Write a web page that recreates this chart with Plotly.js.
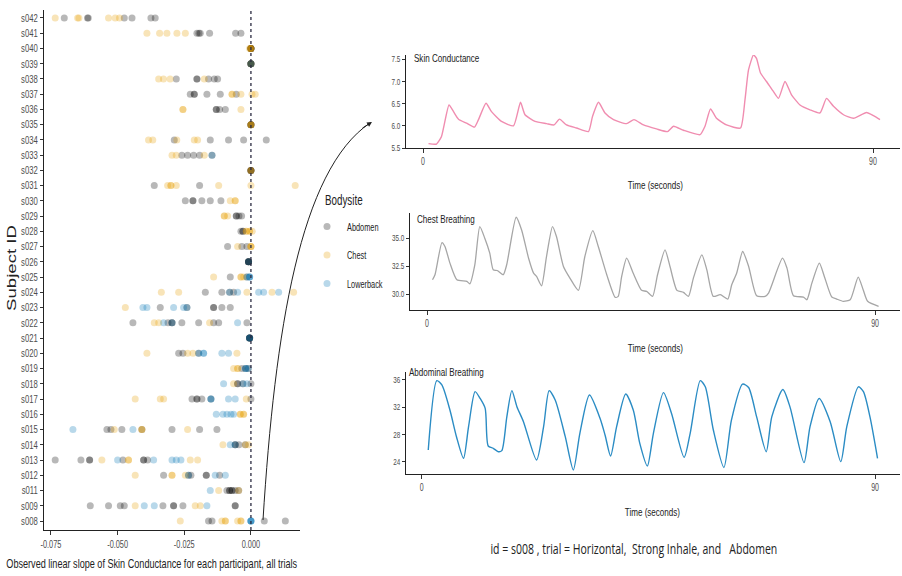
<!DOCTYPE html>
<html>
<head>
<meta charset="utf-8">
<script src="https://cdn.plot.ly/plotly-3.0.1.min.js"></script>
<style>html,body{margin:0;padding:0;background:#fff;}#chart{width:902px;height:576px;}</style>
</head>
<body>
<div id="chart"></div>
<script>
// ---------- DATA ----------
const subjects = ["s008","s009","s011","s012","s013","s014","s015","s016","s017","s018","s019","s020",
  "s021","s022","s023","s024","s025","s026","s027","s028","s029","s030","s031","s032","s033","s034",
  "s035","s036","s037","s038","s039","s040","s041","s042"];
const bodysites = ["Abdomen","Chest","Lowerback"];

const abdomenSlopes = [
  ["s042",[-0.070,-0.0613,-0.061,-0.0475,-0.0446,-0.0375,-0.0359]],
  ["s041",[-0.02025,-0.0195,-0.019,-0.0155,-0.00575,-0.00375]],
  ["s040",[0,0,0,0,0]],
  ["s039",[0,0,0,0,0]],
  ["s038",[-0.028,-0.02025,-0.02025,-0.0159,-0.01375,-0.0125]],
  ["s037",[-0.02275,-0.02125,-0.02125,-0.0165,-0.0115,-0.0055]],
  ["s036",[-0.013,-0.013,-0.01175,-0.0096]],
  ["s035",[0,0,0,0]],
  ["s034",[-0.02875,-0.01525,-0.0084,-0.00275,0.00575]],
  ["s033",[-0.0259,-0.02375,-0.0215,-0.01925,-0.0146]],
  ["s032",[0,0,0,0]],
  ["s031",[-0.03625,-0.01925]],
  ["s030",[-0.0246,-0.02175,-0.02175,-0.0184,-0.01525,-0.01125]],
  ["s029",[-0.0055,-0.0055,-0.0045,-0.0035]],
  ["s028",[-0.00375,-0.003,-0.003]],
  ["s027",[-0.00875,-0.0034,-0.0015]],
  ["s026",[-0.0009,-0.0009,-0.0009,-0.0009,-0.0009]],
  ["s025",[-0.00775,-0.0015]],
  ["s024",[-0.0171,-0.0109,-0.008,-0.0065]],
  ["s023",[-0.034,-0.024,-0.014,-0.014,-0.0109,-0.00775]],
  ["s022",[-0.04425,-0.0311,-0.0296,-0.0296,-0.0259,-0.0196,-0.014,-0.0121,-0.0015]],
  ["s021",[-0.0005,-0.0005,-0.0005,-0.0005,-0.0005]],
  ["s020",[-0.0271,-0.0255,-0.0196]],
  ["s019",[-0.0034,-0.002,-0.001]],
  ["s018",[-0.005,-0.005,-0.003,0]],
  ["s017",[-0.0221,-0.02025,-0.02025,-0.0184,-0.015,0]],
  ["s015",[-0.054,-0.0525,-0.0484,-0.0409,-0.0296,-0.01925,-0.01275]],
  ["s014",[-0.0059,-0.0059,-0.0045,-0.0021]],
  ["s013",[-0.0734,-0.06375,-0.0605,-0.0605,-0.048,-0.04025,-0.04025,-0.03875]],
  ["s012",[-0.03275,-0.0234,-0.0225,-0.01675,-0.01675,-0.01175]],
  ["s011",[-0.009,-0.008,-0.008,-0.0071,-0.0071,-0.0059,-0.0046]],
  ["s009",[-0.06025,-0.0534,-0.049,-0.0475,-0.033,-0.029,-0.029,-0.0255,-0.0059,-0.0059]],
  ["s008",[-0.0159,-0.0146,0.005,0.0129]]
];
const chestSlopes = [
  ["s042",[-0.0734,-0.065,-0.0645,-0.0534,-0.0509,-0.0493]],
  ["s041",[-0.039,-0.03425,-0.0315,-0.02775,-0.0246]],
  ["s040",[0,0,0,-0.0005]],
  ["s039",[0]],
  ["s038",[-0.0346,-0.0328,-0.0303,-0.0175]],
  ["s037",[-0.0071,-0.0071,-0.00375,0.0004,0.0016]],
  ["s036",[-0.0255,-0.0255,-0.00375]],
  ["s035",[0,0,0]],
  ["s034",[-0.0384,-0.0368,-0.0278,-0.02125,-0.02]],
  ["s033",[-0.0296,-0.028,-0.0175]],
  ["s032",[0,0]],
  ["s031",[-0.03125,-0.03,-0.03,-0.028,-0.0121,0,0.0166]],
  ["s030",[-0.00775,-0.0059,-0.0059]],
  ["s029",[-0.01,-0.01,-0.00875]],
  ["s028",[-0.00175,-0.00175,-0.0005,-0.0005,0.0005]],
  ["s027",[-0.005,0,0,0]],
  ["s025",[-0.014,-0.00375,-0.00375,-0.00275]],
  ["s024",[-0.0336,-0.0271,-0.0015,0.0079,0.016]],
  ["s023",[-0.0471]],
  ["s022",[-0.03625,-0.0346,-0.0155]],
  ["s020",[-0.039,-0.02375,-0.02175,-0.00525]],
  ["s019",[-0.0065,-0.005,-0.005]],
  ["s018",[-0.0065]],
  ["s017",[-0.0434,-0.034,-0.03275,-0.00175]],
  ["s016",[-0.004,-0.004,-0.00275,-0.00275]],
  ["s015",[-0.05125,-0.0409,-0.0409,-0.02375]],
  ["s014",[-0.0105,-0.0021,-0.0009]],
  ["s013",[-0.0559,-0.0459,-0.0459,-0.02275,-0.02]],
  ["s012",[-0.0434,-0.0296,-0.0296,-0.0246]],
  ["s011",[-0.0121,-0.0046]],
  ["s009",[-0.0434,-0.0209,-0.019]],
  ["s008",[-0.0265,-0.0109,-0.0096,-0.0096,-0.005,-0.00375,-0.00375]]
];
const lowerbackSlopes = [
  ["s039",[0]],
  ["s033",[-0.0146]],
  ["s026",[-0.0009]],
  ["s025",[-0.0015,-0.0005,-0.0005,-0.0005]],
  ["s024",[-0.008,-0.005,0.0029,0.00475,0.0104]],
  ["s023",[-0.0405,-0.039,-0.029,-0.02525,-0.024]],
  ["s022",[-0.03275,-0.0296,-0.005]],
  ["s021",[-0.0005,-0.0005]],
  ["s020",[-0.0196,-0.01775,-0.01775,-0.0109,-0.0084]],
  ["s019",[-0.002,-0.002,-0.001]],
  ["s018",[-0.01025,-0.003,-0.0015]],
  ["s017",[-0.015,-0.015,-0.0084,-0.0059]],
  ["s016",[-0.013,-0.0105,-0.009,-0.0075,-0.0065]],
  ["s015",[-0.06675,-0.04425]],
  ["s014",[-0.00775,-0.0059]],
  ["s013",[-0.05,-0.0365,-0.0296,-0.028,-0.02625]],
  ["s012",[-0.0234,-0.0134,-0.0096]],
  ["s011",[-0.01525]],
  ["s009",[-0.04,-0.03625,-0.0165]],
  ["s008",[0,0,0,0]]
];

const slopeTicks = [-0.075,-0.05,-0.025,0];
const slopeTickText = ["-0.075","-0.050","-0.025","0.000"];

// Time series for id = s008
const scTime = [1.1,2.7,3.7,5.2,6.1,7.1,8.7,10.3,11.1,12.6,13.7,15.7,18.1,19.5,20.4,22.4,24.7,26.2,27.3,28.7,30.7,33.1,33.9,35.1,36.4,38.1,40.7,42.2,44.1,46.7,48.9,50.1,52.1,55.4,56.4,57.5,58.7,60.7,63.5,64.4,65.1,66.1,66.7,67.5,68.7,70.1,71.1,72.4,73.7,75.4,77.4,79.4,80.7,82.1,84.1,86.1,88.7,90.1,91.4];
const scValue = [5.60,5.59,5.76,6.47,6.32,6.15,6.06,5.97,6.14,6.51,6.32,6.10,6.00,6.53,6.25,6.10,6.05,6.02,6.15,6.02,5.95,5.87,6.21,6.53,6.29,6.14,6.05,6.14,6.02,5.93,5.87,5.99,5.90,5.80,5.99,6.38,6.17,6.02,5.95,6.59,7.26,7.60,7.52,7.19,7.00,6.77,6.62,7.00,6.70,6.47,6.36,6.29,6.62,6.44,6.25,6.17,6.30,6.23,6.14];
const chestTime = [1.1,1.6,3.0,3.6,4.6,6.0,8.0,8.6,9.6,10.6,11.6,12.6,13.3,14.1,15.3,16.0,17.9,19.0,20.4,21.4,22.0,23.0,24.0,25.2,26.0,27.4,28.7,30.4,31.7,33.3,34.4,36.1,37.8,38.4,39.1,40.1,41.4,43.1,44.1,45.3,46.3,47.8,48.8,50.2,51.5,52.5,53.5,55.2,56.2,57.5,58.9,60.4,61.2,62.2,63.4,64.6,66.2,67.9,68.6,71.4,72.3,73.6,75.6,76.3,77.3,78.8,79.8,81.3,82.3,83.6,85.0,86.6,87.6,88.5,90.7];
const chestValue = [31.28,31.73,34.61,34.26,32.77,31.28,31.13,30.92,32.62,36.04,35.0,33.66,32.17,32.11,31.73,32.62,36.88,35.74,33.21,31.88,31.58,30.74,33.36,36.04,35.15,32.47,31.43,30.33,33.36,35.68,34.26,31.73,29.70,29.79,31.58,33.21,31.88,30.33,30.24,29.79,31.73,33.96,32.47,30.33,30.15,29.79,31.43,33.51,32.17,29.79,29.94,29.55,30.83,31.88,33.81,32.47,29.85,29.79,30.09,33.21,32.32,29.85,29.73,29.49,30.98,32.77,31.58,29.73,29.55,29.35,29.49,31.52,30.39,29.35,28.9];
const abdTime = [1.3,3.0,4.0,5.6,6.9,8.3,9.3,10.6,11.6,12.6,13.2,14.2,15.2,15.9,16.9,17.9,18.9,20.2,22.8,24.2,25.3,26.5,28.5,30.1,31.4,33.3,35.4,36.4,37.5,38.7,40.5,42.0,43.3,44.8,46.0,48.0,49.6,52.1,53.3,55.3,56.3,57.9,60.0,61.5,63.7,64.9,66.5,68.4,69.5,71.7,73.1,75.9,77.1,78.9,81.1,83.2,84.4,86.7,87.7,89.0,90.5];
const abdValue = [25.76,35.9,35.27,31.6,27.7,24.54,29.17,34.3,33.3,31.85,26.34,26.0,25.5,25.66,30.6,34.44,32.1,29.9,24.3,29.17,34.44,33.07,27.7,22.83,28.2,33.8,30.4,27.95,24.88,29.17,33.95,31.6,26.73,23.41,28.2,34.15,31.1,24.68,28.2,35.9,35.0,28.68,23.2,30.15,35.4,34.9,30.6,25.5,30.6,34.6,32.1,23.9,29.17,33.3,29.9,24.05,29.17,35.0,34.3,30.6,24.54];

const scTicks = [5.5,6.0,6.5,7.0,7.5];
const chestTicks = [30.0,32.5,35.0];
const abdTicks = [24,28,32,36];
const timeTicks = [0,90];

// ---------- STYLE ----------
const W = 902, H = 576;
const px = v => v / W;
const py = v => 1 - v / H;
const sans = "Liberation Sans, Arial, sans-serif";
const nf = (size, color) => ({family:sans, size:size, color:color || "#222"});
const siteColors = {Abdomen:"#000000", Chest:"#E69F00", Lowerback:"#0072B2"};

function flatten(rows){
  const x=[], y=[];
  rows.forEach(([s, vals]) => vals.forEach(v => { x.push(v); y.push(s); }));
  return {x, y};
}
const siteRows = {Abdomen: abdomenSlopes, Chest: chestSlopes, Lowerback: lowerbackSlopes};

const traces = bodysites.map(site => {
  const d = flatten(siteRows[site]);
  return {
    type:"scatter", mode:"markers", x:d.x, y:d.y, name:site, legendgroup:site,
    xaxis:"x", yaxis:"y",
    marker:{color:siteColors[site], size:7, opacity:0.28, line:{width:0}},
    hoverinfo:"x+y+name"
  };
});
traces.push({type:"scatter", mode:"lines", x:scTime, y:scValue, xaxis:"x2", yaxis:"y2",
  line:{color:"#F08DB0", width:1.4, shape:"spline", smoothing:0.5}, showlegend:false});
traces.push({type:"scatter", mode:"lines", x:chestTime, y:chestValue, xaxis:"x3", yaxis:"y3",
  line:{color:"#A6A6A6", width:1.3, shape:"spline", smoothing:0.6}, showlegend:false});
traces.push({type:"scatter", mode:"lines", x:abdTime, y:abdValue, xaxis:"x4", yaxis:"y4",
  line:{color:"#2B8CC4", width:1.4, shape:"spline", smoothing:0.7}, showlegend:false});

const axBase = {showgrid:false, zeroline:false, showline:true, linecolor:"#222", linewidth:1,
  ticks:"outside", ticklen:3, tickcolor:"#333", tickwidth:1,
  tickfont:nf(11,"#4d4d4d"), fixedrange:true};

function ann(x, y, text, font, extra){
  return Object.assign({xref:"paper", yref:"paper", x:px(x), y:py(y), text:text, showarrow:false,
    xanchor:"center", yanchor:"middle", font:font}, extra || {});
}

const layout = {
  width:W, height:H, margin:{l:0,r:0,t:0,b:0},
  paper_bgcolor:"#fff", plot_bgcolor:"#fff",
  showlegend:true,
  legend:{x:px(307), y:py(212), xanchor:"left", yanchor:"top",
    font:nf(10.5), tracegroupgap:9.5, bgcolor:"rgba(0,0,0,0)"},
  xaxis:Object.assign({}, axBase, {domain:[px(44),px(300)], range:[-0.0776,0.0184], anchor:"y",
    tickvals:slopeTicks, ticktext:slopeTickText, ticklen:4, tickfont:nf(10.5,"#4d4d4d")}),
  yaxis:Object.assign({}, axBase, {domain:[py(530),py(10)], anchor:"x", type:"category",
    categoryorder:"array", categoryarray:subjects, range:[-0.59,33.52]}),
  xaxis2:Object.assign({}, axBase, {domain:[px(406),px(900)], range:[-3.4,95.4], anchor:"y2",
    tickvals:timeTicks, ticklen:4, tickfont:nf(10,"#4d4d4d")}),
  yaxis2:Object.assign({}, axBase, {domain:[py(148),py(55)], range:[5.5,7.597], anchor:"x2",
    tickvals:scTicks, ticktext:scTicks.map(v=>v.toFixed(1)), tickfont:nf(9,"#4d4d4d")}),
  xaxis3:Object.assign({}, axBase, {domain:[px(410),px(900)], range:[-3.42,95.0], anchor:"y3",
    tickvals:timeTicks, ticklen:4, tickfont:nf(10,"#4d4d4d")}),
  yaxis3:Object.assign({}, axBase, {domain:[py(310),py(213)], range:[28.57,37.26], anchor:"x3",
    tickvals:chestTicks, ticktext:chestTicks.map(v=>v.toFixed(1)), tickfont:nf(9,"#4d4d4d")}),
  xaxis4:Object.assign({}, axBase, {domain:[px(406),px(900)], range:[-3.12,94.96], anchor:"y4",
    tickvals:timeTicks, ticklen:4, tickfont:nf(10,"#4d4d4d")}),
  yaxis4:Object.assign({}, axBase, {domain:[py(474),py(372)], range:[22.24,37.17], anchor:"x4",
    tickvals:abdTicks, tickfont:nf(9,"#4d4d4d")}),
  shapes:[
    {type:"line", xref:"x", yref:"paper", x0:0, x1:0, y0:py(530), y1:py(10),
      line:{color:"#2a2a40", width:1.3, dash:"dot"}},
    {type:"path", xref:"paper", yref:"paper",
      path:`M ${px(263)},${py(520)} C ${px(275)},${py(330)} ${px(300)},${py(170)} ${px(370)},${py(123)}`,
      line:{color:"#222", width:1}}
  ],
  annotations:[
    {xref:"paper", yref:"paper", x:px(372), y:py(122), ax:-11, ay:7, showarrow:true,
      arrowhead:2, arrowsize:1, arrowwidth:1, arrowcolor:"#222", text:""},
    ann(11, 268, "Subject ID", nf(13), {textangle:-90}),
    ann(152, 563, "Observed linear slope of Skin Conductance for each participant, all trials", nf(13)),
    ann(323, 200, "Bodysite", nf(14), {xanchor:"left", align:"left"}),
    ann(412, 58, "Skin Conductance", nf(11.5), {xanchor:"left", align:"left"}),
    ann(415, 219, "Chest Breathing", nf(11.5), {xanchor:"left", align:"left"}),
    ann(407, 372, "Abdominal Breathing", nf(11.5), {xanchor:"left", align:"left"}),
    ann(655, 185, "Time (seconds)", nf(11.5)),
    ann(655, 348, "Time (seconds)", nf(11.5)),
    ann(652, 512, "Time (seconds)", nf(11.5)),
    ann(634, 548, "id = s008 , trial = Horizontal,\u00a0 Strong Inhale, and\u00a0\u00a0 Abdomen",
      {family:"Open Sans, Noto Sans, sans-serif", size:15, color:"#222"})
  ]
};

// The reference's lettering is horizontally condensed; mimic it by narrowing each text run.
const textSqueeze = 0.7;
const subjectTitleLength = 86;

Plotly.newPlot("chart", traces, layout, {staticPlot:true, displayModeBar:false}).then(gd => {
  gd.querySelectorAll("svg text").forEach(t => {
    const s = t.textContent;
    if (!s || !s.trim()) return;
    const L = t.getComputedTextLength();
    if (!L) return;
    const target = (s === "Subject ID") ? subjectTitleLength : L * textSqueeze;
    t.setAttribute("textLength", target.toFixed(2));
    t.setAttribute("lengthAdjust", "spacingAndGlyphs");
  });
});
</script>
</body>
</html>
